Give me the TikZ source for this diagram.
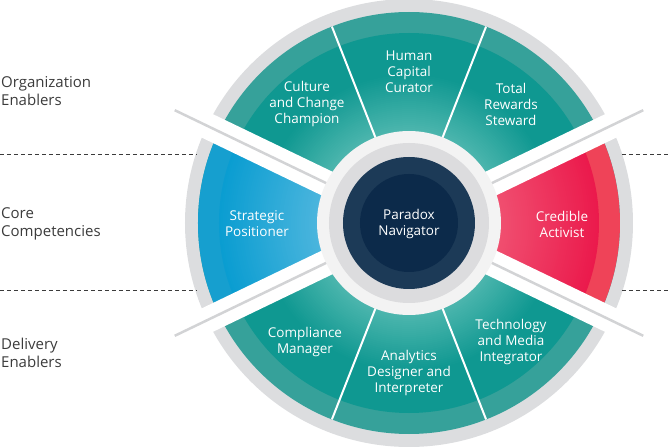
\documentclass[tikz,border=0pt]{standalone}
\usepackage{fontspec}
\setmainfont{Open Sans}
\definecolor{ringgray}{HTML}{DCDDDF}
\definecolor{tealband}{HTML}{36A19A}
\definecolor{tealOut}{HTML}{0F9891}
\definecolor{tealIn}{HTML}{4DB6AE}
\definecolor{blueband}{HTML}{169FCF}
\definecolor{blueOut}{HTML}{0A9DD1}
\definecolor{blueIn}{HTML}{4BB5DD}
\definecolor{redband}{HTML}{EF4358}
\definecolor{redOut}{HTML}{EB1A4C}
\definecolor{redIn}{HTML}{F04F70}
\definecolor{whitish}{HTML}{F3F3F3}
\definecolor{innergray}{HTML}{DCDCDE}
\definecolor{navyOut}{HTML}{1C3A57}
\definecolor{navyIn}{HTML}{0C2A4A}
\definecolor{sepgray}{HTML}{D2D3D5}
\definecolor{labelgray}{HTML}{3B3B3B}
\tikzset{
  seglabel/.style={text=white, align=center, inner sep=0pt, font=\fontsize{13.5}{16}\selectfont},
  sidelabel/.style={text=labelgray, align=left, anchor=west, inner sep=0pt, font=\fontsize{15}{18.5}\selectfont},
  band/.style={white, line width=26},
  sepline/.style={sepgray, line width=2.5},
  divider/.style={white, line width=2},
  levelline/.style={labelgray, line width=1, dash pattern=on 4 off 3}
}
\begin{document}
\begin{tikzpicture}[x=1pt,y=1pt]
\useasboundingbox (-409,-224) rectangle (261,223);
% outer gray ring
\fill[ringgray] (0,0) circle (224);
% teal base
\fill[tealband] (0,0) circle (211);
\foreach \r in {190,188,...,92} {
  \pgfmathsetmacro\pp{min(100,max(0,(\r-92)/(150-92)*100))}
  \fill[tealOut!\pp!tealIn] (0,0) circle (\r);
}
% blue wedge
\begin{scope}
  \clip (0,0) -- (154.286:240) arc[start angle=154.286, end angle=205.714, radius=240] -- cycle;
  \fill[blueband] (0,0) circle (211);
  \foreach \r in {190,188,...,92} {
    \pgfmathsetmacro\pp{min(100,max(0,(\r-92)/(190-92)*100))}
    \fill[blueOut!\pp!blueIn] (0,0) circle (\r);
  }
\end{scope}
% red wedge
\begin{scope}
  \clip (0,0) -- (-25.714:240) arc[start angle=-25.714, end angle=25.714, radius=240] -- cycle;
  \fill[redband] (0,0) circle (211);
  \foreach \r in {190,188,...,92} {
    \pgfmathsetmacro\pp{min(100,max(0,(\r-92)/(190-92)*100))}
    \fill[redOut!\pp!redIn] (0,0) circle (\r);
  }
\end{scope}
% white bands with gray center lines
\draw[band] (205.714:240) -- (25.714:240);
\draw[band] (154.286:240) -- (-25.714:240);
\draw[sepline] (205.714:260) -- (25.714:260);
\draw[sepline] (154.286:260) -- (-25.714:260);
% dividers between teal segments
\foreach \a in {68.571,111.429,-68.571,-111.429} {
  \draw[divider] (0,0) -- (\a:211);
}
% center rings
\fill[whitish] (0,0) circle (92);
\fill[innergray] (0,0) circle (80);
\fill[navyOut] (0,0) circle (66);
\fill[navyIn] (0,0) circle (49);
% segment labels
\node[seglabel] (culture) at (-102,119) {Culture\\and Change\\Champion};
\node[seglabel] (human) at (0,151) {Human\\Capital\\Curator};
\node[seglabel] (rewards) at (102,119) {Total\\Rewards\\Steward};
\node[seglabel] (strategic) at (-152,-1) {Strategic\\Positioner};
\node[seglabel] (paradox) at (0,-1) {Paradox\\Navigator};
\node[seglabel] (credible) at (153,-1) {Credible\\Activist};
\node[seglabel] (compliance) at (-104,-119) {Compliance\\Manager};
\node[seglabel] (analytics) at (0,-150) {Analytics\\Designer and\\Interpreter};
\node[seglabel] (technology) at (102,-119) {Technology\\and Media\\Integrator};
% level dashed lines
\coordinate (l1a) at (-409,68);
\coordinate (l1b) at (-212,68);
\coordinate (r1a) at (213,68);
\coordinate (r1b) at (261,68);
\coordinate (l2a) at (-409,-68);
\coordinate (l2b) at (-212,-68);
\coordinate (r2a) at (213,-68);
\coordinate (r2b) at (261,-68);
\draw[levelline] (l1a) -- (l1b);
\draw[levelline] (r1a) -- (r1b);
\draw[levelline] (l2a) -- (l2b);
\draw[levelline] (r2a) -- (r2b);
% side labels
\node[sidelabel] (org) at (-408,132) {Organization\\Enablers};
\node[sidelabel] (core) at (-408,-1) {Core\\Competencies};
\node[sidelabel] (delivery) at (-408,-130) {Delivery\\Enablers};
\end{tikzpicture}
\end{document}
